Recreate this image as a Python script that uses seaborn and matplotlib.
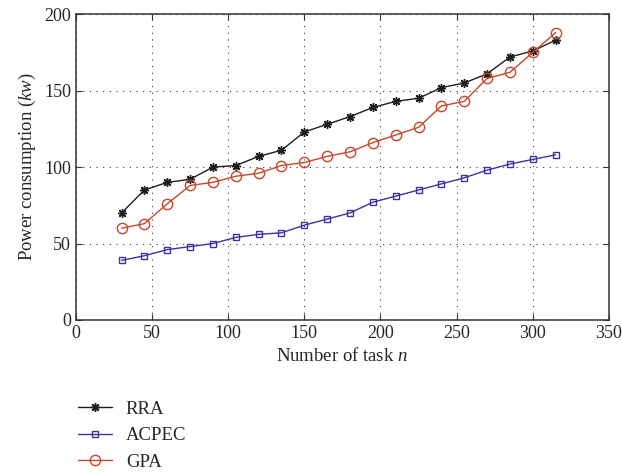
import matplotlib
matplotlib.use("Agg")
import matplotlib.pyplot as plt
import pandas as pd
import seaborn as sns

tasks = [30, 45, 60, 75, 90, 105, 120, 135, 150, 165,
         180, 195, 210, 225, 240, 255, 270, 285, 300, 315]
rra = [70, 85, 90, 92, 100, 101, 107, 111, 123, 128,
       133, 139, 143, 145, 152, 155, 161, 172, 176, 183]
acpec = [39, 42, 46, 48, 50, 54, 56, 57, 62, 66,
         70, 77, 81, 85, 89, 93, 98, 102, 105, 108]
gpa = [60, 63, 76, 88, 90, 94, 96, 101, 103, 107,
       110, 116, 121, 126, 140, 143, 158, 162, 175, 188]

series_names = ["RRA", "ACPEC", "GPA"]
colors = {"RRA": "#1e1e1e", "ACPEC": "#3a34a2", "GPA": "#c8452c"}
markers = {"RRA": (8, 2, 0), "ACPEC": "s", "GPA": "o"}
msizes = {"RRA": 6.5, "ACPEC": 4.6, "GPA": 7.4}

df = pd.DataFrame({
    "n": tasks * 3,
    "power": rra + acpec + gpa,
    "algo": [s for s in series_names for _ in tasks],
})

sns.set_style("ticks")
plt.rcParams["font.family"] = ["Liberation Serif", "DejaVu Serif"]
plt.rcParams["mathtext.fontset"] = "custom"
plt.rcParams["mathtext.it"] = "Liberation Serif:italic"
plt.rcParams["mathtext.rm"] = "Liberation Serif"

fig = plt.figure(figsize=(6.22, 4.74), dpi=100)
ax = fig.add_axes([0.122, 0.325, 0.857, 0.645])

for name in series_names:
    sub = df[df["algo"] == name]
    sns.lineplot(data=sub, x="n", y="power", ax=ax, color=colors[name],
                 marker=markers[name], markersize=msizes[name],
                 markerfacecolor="none" if name != "RRA" else colors[name],
                 markeredgecolor=colors[name], markeredgewidth=1.0,
                 linewidth=1.0, label=name)

ax.set_xlim(0, 350)
ax.set_ylim(0, 200)
ax.set_xticks(range(0, 351, 50))
ax.set_yticks(range(0, 201, 50))
ax.grid(True, linestyle=(0, (1, 5)), color="#333333", linewidth=0.8)
ax.tick_params(direction="in", top=True, right=True, labelsize=13, length=4, color="#333333")
for sp in ax.spines.values():
    sp.set_linewidth(1.1)
    sp.set_color("#333333")

ax.set_xlabel("Number of task $n$", fontsize=13.5)
ax.set_ylabel("Power consumption ($kw$)", fontsize=13.5)

ax.legend(loc="upper left", bbox_to_anchor=(-0.01, -0.24), frameon=False,
          fontsize=13.5, handlelength=1.8, handletextpad=0.75,
          labelspacing=0.5, borderaxespad=0)

fig.savefig("out.png", dpi=100)
